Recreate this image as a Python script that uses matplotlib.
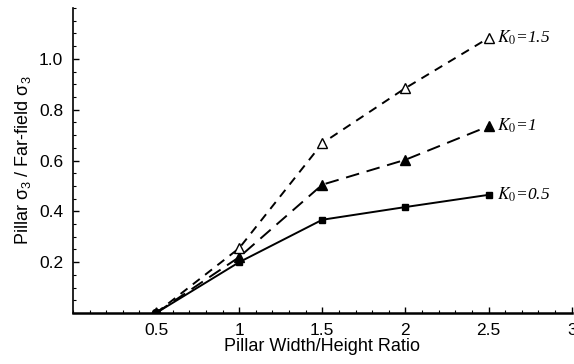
import matplotlib
matplotlib.use("Agg")
import matplotlib.pyplot as plt
from matplotlib.ticker import MultipleLocator, FixedLocator, FixedFormatter

plt.rcParams['font.family'] = ['Liberation Sans', 'DejaVu Sans']
plt.rcParams['mathtext.fontset'] = 'stix'

ratio = [0.5, 1, 1.5, 2, 2.5]
k05 = [0.0, 0.20, 0.367, 0.417, 0.465]
k10 = [0.0, 0.22, 0.505, 0.603, 0.735]
k15 = [0.0, 0.255, 0.668, 0.885, 1.082]
series_labels = [r'$K_0$=0.5', r'$K_0$=1', r'$K_0$=1.5']

xticks = [0.5, 1, 1.5, 2, 2.5, 3]
xticklabels = ['0.5', '1', '1.5', '2', '2.5', '3']
yticks = [0.2, 0.4, 0.6, 0.8, 1.0]
yticklabels = ['0.2', '0.4', '0.6', '0.8', '1.0']

fig = plt.figure(figsize=(5.74, 3.64), dpi=100)
ax = fig.add_axes([0.127, 0.140, 0.869, 0.838])

ax.plot(ratio, k05, color='black', lw=1.4, ls='-', marker='s', ms=5,
        mfc='black', mec='black', zorder=3)
ax.plot(ratio, k10, color='black', lw=1.4, ls=(0, (7, 4)), marker='^', ms=6.5,
        mfc='black', mec='black', zorder=3)
ax.plot(ratio, k15, color='black', lw=1.4, ls=(0, (4.5, 3.5)), marker='^', ms=7.5,
        mfc='white', mec='black', mew=1.0, zorder=3)
ax.plot([ratio[0]], [k05[0]], marker='o', ms=6, color='black', zorder=4)

ends = [k05[-1], k10[-1], k15[-1]]
for lab, yv in zip(series_labels, ends):
    ax.annotate(lab, xy=(ratio[-1], yv), xytext=(6, 0), textcoords='offset points',
                ha='left', va='center', fontsize=12.5,
                family=['Liberation Serif', 'DejaVu Serif'], style='italic')

ax.set_xlim(0, 3)
ax.set_ylim(0, 1.2)
ax.spines['top'].set_visible(False)
ax.spines['right'].set_visible(False)
ax.spines['left'].set_linewidth(1.2)
ax.spines['bottom'].set_linewidth(1.8)

ax.xaxis.set_major_locator(FixedLocator(xticks))
ax.xaxis.set_major_formatter(FixedFormatter(xticklabels))
ax.xaxis.set_minor_locator(MultipleLocator(0.1))
ax.yaxis.set_major_locator(FixedLocator(yticks))
ax.yaxis.set_major_formatter(FixedFormatter(yticklabels))
ax.yaxis.set_minor_locator(MultipleLocator(0.05))
ax.tick_params(which='both', direction='in', labelsize=12.5)
ax.tick_params(which='major', length=4, width=1)
ax.tick_params(which='minor', length=2, width=0.8)
ax.tick_params(axis='x', which='major', pad=7)
ax.tick_params(axis='y', which='major', pad=7)

ax.set_xlabel('Pillar Width/Height Ratio', fontsize=13, labelpad=0)
ax.set_ylabel(r'Pillar $\mathregular{\sigma_3}$ / Far-field $\mathregular{\sigma_3}$', fontsize=13, labelpad=4)

fig.savefig('out.png', dpi=100)
